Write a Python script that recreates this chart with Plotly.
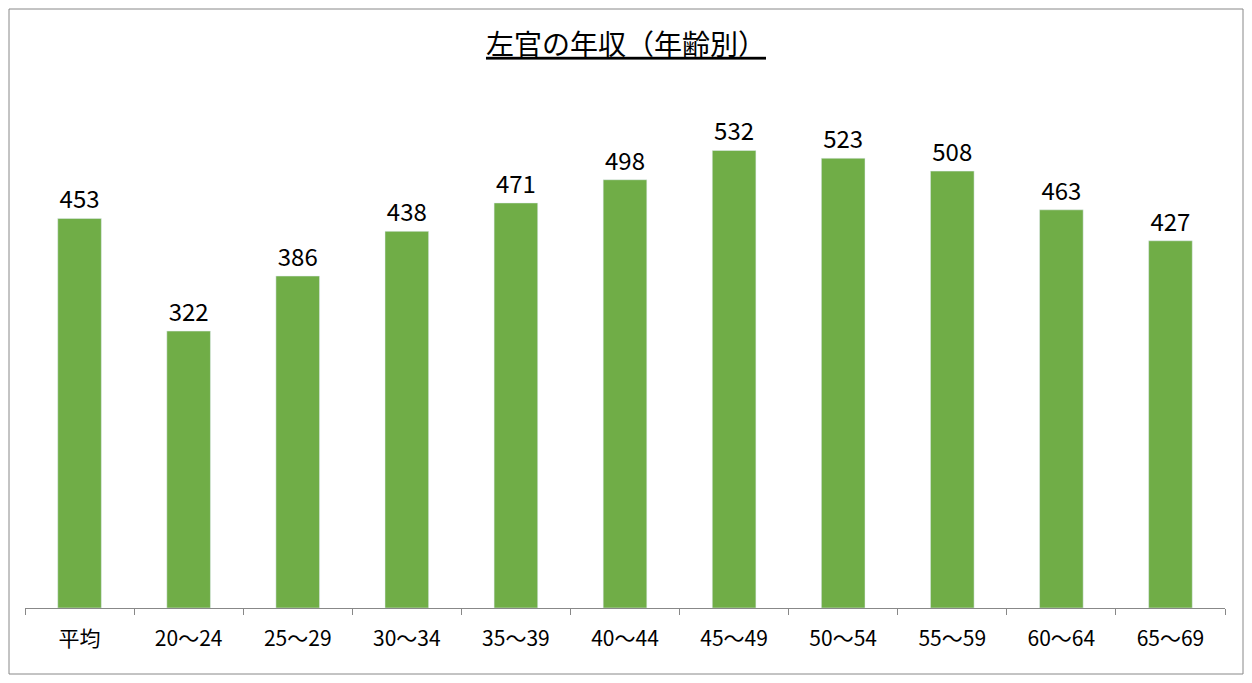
import plotly.graph_objects as go

categories = ["平均", "20～24", "25～29", "30～34", "35～39", "40～44", "45～49", "50～54", "55～59", "60～64", "65～69"]
values = [453, 322, 386, 438, 471, 498, 532, 523, 508, 463, 427]

W, H = 1236, 667
L, R, T, B = 17, 19, 84, 67
pw, ph = W - L - R, H - T - B

fig = go.Figure(go.Bar(
    x=categories, y=values, marker_color="#70AD47",
    text=values, textposition="outside", cliponaxis=False,
    textfont=dict(size=24, color="#000000"),
))
fig.update_layout(
    width=W, height=H,
    margin=dict(l=L, r=R, t=T, b=B),
    paper_bgcolor="white", plot_bgcolor="white",
    font=dict(family="Noto Sans CJK JP, Noto Sans, sans-serif", color="#000000"),
    bargap=0.6,
    showlegend=False,
    title=dict(text="<u>左官の年収（年齢別）</u>", x=0.5, xanchor="center", y=1 - 37 / H, yanchor="middle",
               font=dict(size=28, color="#000000")),
    shapes=[dict(type="rect", xref="paper", yref="paper",
                 x0=-(L - 1) / pw, x1=1 + (R - 1) / pw, y0=-(B - 1) / ph, y1=1 + (T - 1) / ph,
                 line=dict(color="#888888", width=1))],
)
fig.update_xaxes(showline=True, linecolor="#888888", linewidth=1, ticks="outside", tickson="boundaries",
                 ticklen=6, tickcolor="#888888", tickfont=dict(size=21), ticklabelstandoff=12)
fig.update_yaxes(range=[0, 600], visible=False, showgrid=False)
fig.write_html("out.html")
